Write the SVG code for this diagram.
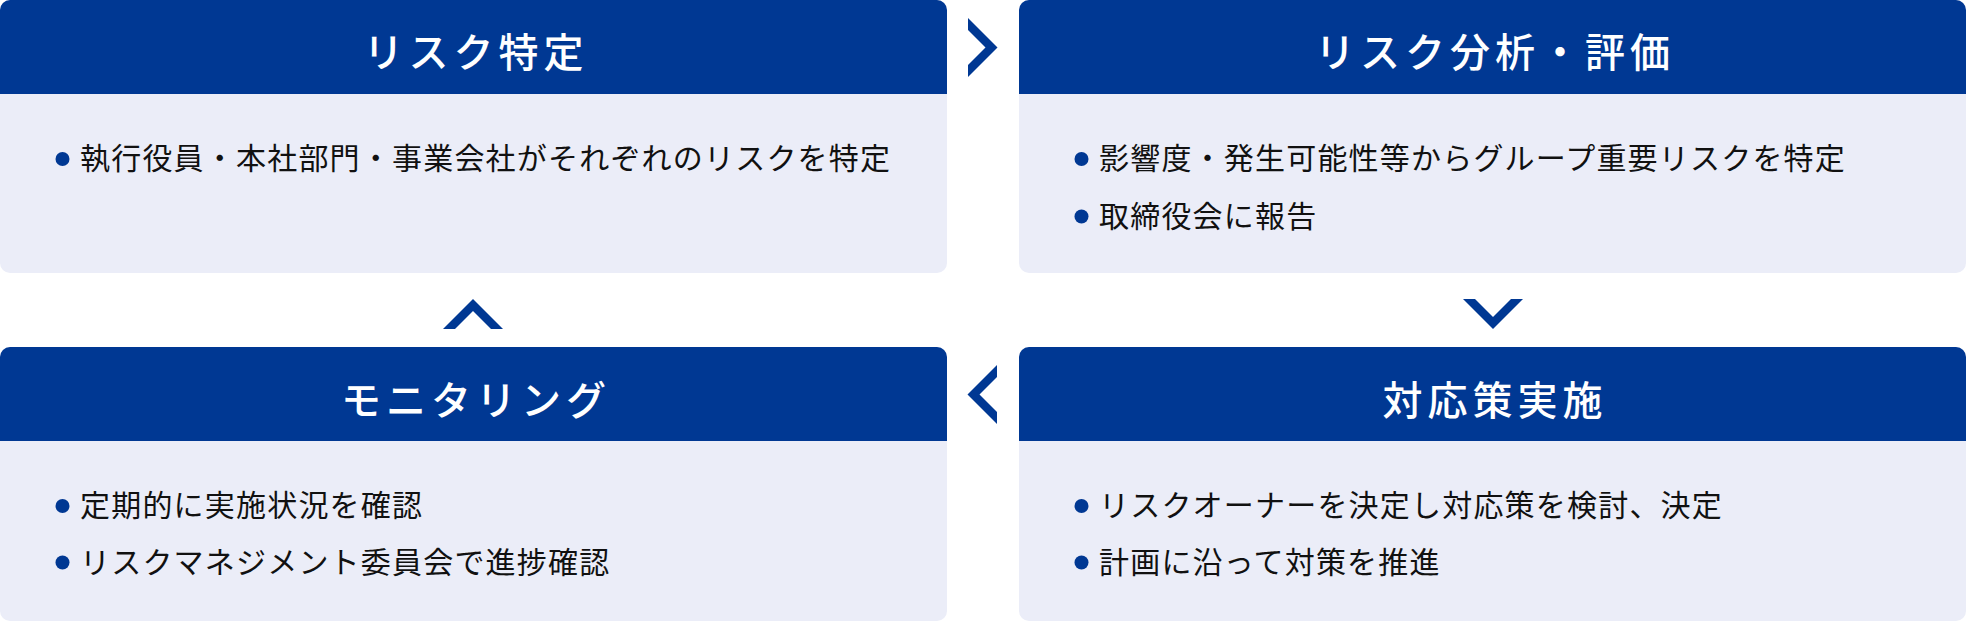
<svg xmlns="http://www.w3.org/2000/svg" width="1966" height="621" viewBox="0 0 1966 621">
<defs>
<style>
.body{fill:#ebedf8}
.head{fill:#003893}
.title{font-family:"Noto Sans CJK JP","Noto Sans",sans-serif;font-size:40px;font-weight:500;fill:#ffffff;text-anchor:middle;letter-spacing:5px}
.txt{font-family:"Noto Sans CJK JP","Noto Sans",sans-serif;font-size:30px;font-weight:400;fill:#111111;letter-spacing:1.2px}
.dot{fill:#003893}
.chev{fill:#003893}
</style>
</defs>
<rect width="1966" height="621" fill="#ffffff"/>
<g id="node-risk-identification">
<rect class="body" x="0" y="0" width="947" height="273" rx="10"/>
<path class="head" d="M0,94 V10 A10,10 0 0 1 10,0 H937 A10,10 0 0 1 947,10 V94 Z"/>
<text class="title" x="476" y="67">リスク特定</text>
<circle class="dot" cx="62.5" cy="159" r="7"/>
<text class="txt" x="80" y="169">執行役員・本社部門・事業会社がそれぞれのリスクを特定</text>
</g>
<g id="node-risk-analysis">
<rect class="body" x="1019" y="0" width="947" height="273" rx="10"/>
<path class="head" d="M1019,94 V10 A10,10 0 0 1 1029,0 H1956 A10,10 0 0 1 1966,10 V94 Z"/>
<text class="title" x="1495" y="67">リスク分析・評価</text>
<circle class="dot" cx="1081.5" cy="159" r="7"/>
<text class="txt" x="1099" y="169">影響度・発生可能性等からグループ重要リスクを特定</text>
<circle class="dot" cx="1081.5" cy="216.5" r="7"/>
<text class="txt" x="1099" y="226.5">取締役会に報告</text>
</g>
<g id="node-countermeasures">
<rect class="body" x="1019" y="347" width="947" height="274" rx="10"/>
<path class="head" d="M1019,441 V357 A10,10 0 0 1 1029,347 H1956 A10,10 0 0 1 1966,357 V441 Z"/>
<text class="title" x="1495" y="415">対応策実施</text>
<circle class="dot" cx="1081.5" cy="506" r="7"/>
<text class="txt" x="1099" y="516">リスクオーナーを決定し対応策を検討、決定</text>
<circle class="dot" cx="1081.5" cy="562.5" r="7"/>
<text class="txt" x="1099" y="572.5">計画に沿って対策を推進</text>
</g>
<g id="node-monitoring">
<rect class="body" x="0" y="347" width="947" height="274" rx="10"/>
<path class="head" d="M0,441 V357 A10,10 0 0 1 10,347 H937 A10,10 0 0 1 947,357 V441 Z"/>
<text class="title" x="476" y="415">モニタリング</text>
<circle class="dot" cx="62.5" cy="506" r="7"/>
<text class="txt" x="80" y="516">定期的に実施状況を確認</text>
<circle class="dot" cx="62.5" cy="562.5" r="7"/>
<text class="txt" x="80" y="572.5">リスクマネジメント委員会で進捗確認</text>
</g>
<g id="connectors">
<polygon class="chev" points="968,18 997.5,47.5 968,77 968,65 985.5,47.5 968,30"/>
<polygon class="chev" points="1463,299 1493,329 1523,299 1511,299 1493,317 1475,299"/>
<polygon class="chev" points="997,365 967.5,394.5 997,424 997,412 979.5,394.5 997,377"/>
<polygon class="chev" points="443,329 473,299 503,329 491,329 473,311 455,329"/>
</g>
</svg>
